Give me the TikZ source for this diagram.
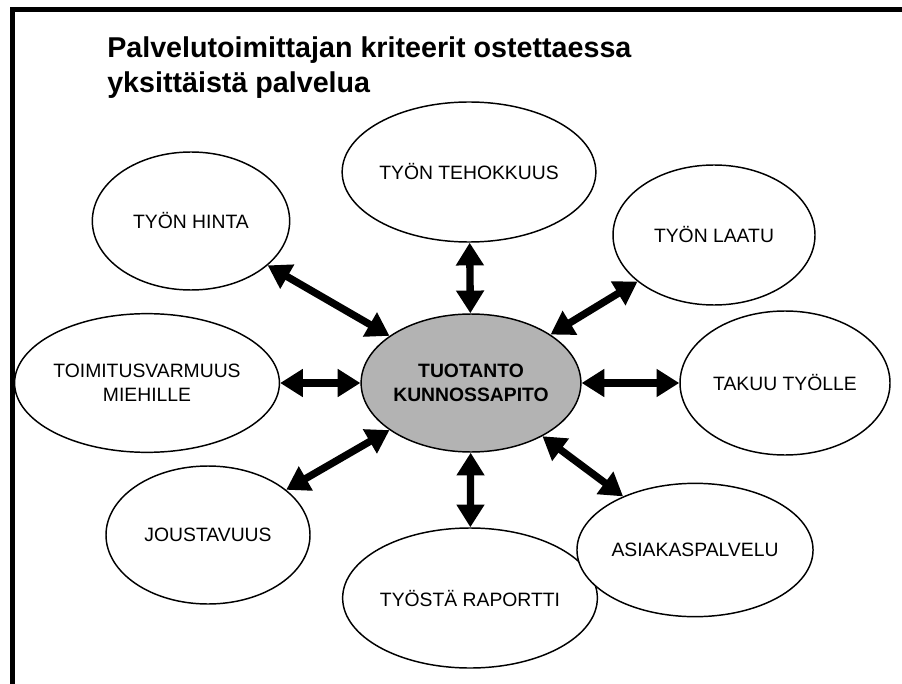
\documentclass[tikz,border=0pt]{standalone}
\usepackage{fontspec}
\setmainfont{Liberation Sans}
\usetikzlibrary{shapes.geometric,arrows.meta}

\definecolor{hubgray}{RGB}{179,179,179}

\tikzset{
  bubble/.style={ellipse, draw=black, line width=1.1pt, fill=white,
    inner sep=0pt, align=center, font=\fontsize{14.5}{18}\selectfont},
  hub/.style={bubble, fill=hubgray, font=\fontsize{14.5}{17.5}\selectfont\bfseries},
  link/.style={line width=5.5pt,
    {Triangle[length=17pt,width=20pt]}-{Triangle[length=17pt,width=20pt]}},
  frameline/.style={line width=3.75pt, line cap=butt, line join=miter}
}

\begin{document}
\begin{tikzpicture}[x=0.75pt,y=-0.75pt]
\useasboundingbox (0,0) rectangle (902,684);

% frame along the top and left edges
\coordinate (fbl) at (12,684);
\coordinate (ftl) at (12,10);
\coordinate (ftr) at (902,10);
\draw[frameline] (fbl) -- (ftl) -- (ftr);

% heading
\node[anchor=base west, align=left, inner sep=0pt,
      font=\fontsize{21.5}{26.25}\selectfont\bfseries] (title) at (107,93)
  {Palvelutoimittajan kriteerit ostettaessa\\yksittäistä palvelua};

% central ellipse
\node[hub, minimum width=158pt, minimum height=103.5pt] (hub) at (471,383)
  {TUOTANTO\\KUNNOSSAPITO};

% surrounding criteria
\node[bubble, minimum width=151.5pt, minimum height=105pt] (teho)  at (469,172) {TYÖN TEHOKKUUS};
\node[bubble, minimum width=148pt,   minimum height=103.5pt] (hinta) at (191,221) {TYÖN HINTA};
\node[bubble, minimum width=151.5pt, minimum height=105pt] (laatu) at (714,235) {TYÖN LAATU};
\node[bubble, minimum width=166.5pt, minimum height=104pt] (toim)  at (147,383) {TOIMITUSVARMUUS\\MIEHILLE};
\node[bubble, minimum width=157.5pt, minimum height=108pt] (takuu) at (785,383) {TAKUU TYÖLLE};
\node[bubble, minimum width=153pt,   minimum height=103.5pt] (jous)  at (208,535) {JOUSTAVUUS};
\node[bubble, minimum width=151.5pt, minimum height=105pt] (rap)   at (470,598) {TYÖSTÄ RAPORTTI};
\node[bubble, minimum width=160pt,   minimum height=100pt] (asia)  at (695,550) {ASIAKASPALVELU};

% two-way links
\draw[link] (hub) -- (teho);
\draw[link] (hub) -- (hinta);
\draw[link] (hub) -- (laatu);
\draw[link] (hub) -- (toim);
\draw[link] (hub) -- (takuu);
\draw[link] (hub) -- (jous);
\draw[link] (hub) -- (rap);
\draw[link] (hub) -- (asia);
\end{tikzpicture}
\end{document}
